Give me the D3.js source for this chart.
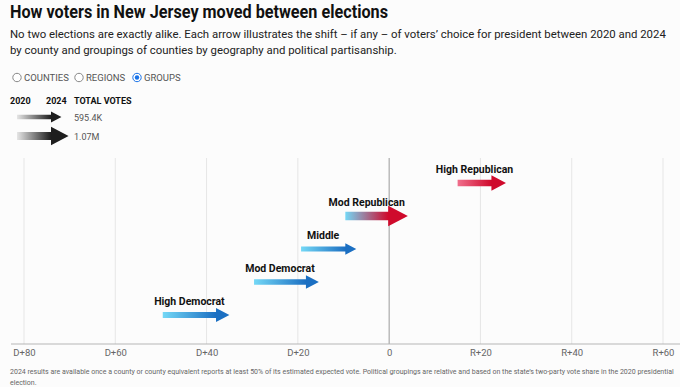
<!DOCTYPE html>
<html>
<head>
<meta charset="utf-8">
<script src="https://cdn.jsdelivr.net/npm/d3@7"></script>
<style>
  body { margin: 0; background: #fcfcfc; }
  svg { display: block; font-family: Roboto, "Noto Sans", sans-serif; }
</style>
</head>
<body>
<div id="chart"></div>
<script>
// chart size
var svgWidth = 680;
var svgHeight = 387;

// groups, 2020 margin and 2024 margin (negative = D, positive = R), total votes
var groups = ["High Republican", "Mod Republican", "Middle", "Mod Democrat", "High Democrat"];
var margin2020 = [15, -9.6, -19.3, -29.6, -49.6];
var margin2024 = [25.6, 4.1, -7.2, -15.4, -35];
var totalVotes = [870000, 1210000, 630000, 760000, 790000];

// legend
var legendVotes = [595400, 1070000];
var legendLabels = ["595.4K", "1.07M"];

var tickValues = [-80, -60, -40, -20, 0, 20, 40, 60];
var radioLabels = ["COUNTIES", "REGIONS", "GROUPS"];

var svg = d3.select("#chart")
  .append("svg")
  .attr("width", svgWidth)
  .attr("height", svgHeight);

var defs = svg.append("defs");

// set the font size so a line takes (at most) the given width
function fitText(str, x, y, width, size, fill) {
  var t = svg.append("text")
    .attr("x", x).attr("y", y)
    .attr("font-size", size).attr("fill", fill)
    .text(str);
  var w = t.node().getComputedTextLength();
  if (w > width) t.attr("font-size", size * width / w);
  return t;
}

// title + subtitle
svg.append("text")
  .attr("x", 10).attr("y", 18)
  .attr("font-size", 18).attr("font-weight", 700).attr("fill", "#111")
  .attr("textLength", 378).attr("lengthAdjust", "spacingAndGlyphs")
  .text("How voters in New Jersey moved between elections");

var sub1 = fitText("No two elections are exactly alike. Each arrow illustrates the shift \u2013 if any \u2013 of voters\u2019 choice for president between 2020 and 2024",
  10, 38, 657, 12.5, "#222");
svg.append("text")
  .attr("x", 10).attr("y", 54)
  .attr("font-size", sub1.attr("font-size")).attr("fill", "#222")
  .text("by county and groupings of counties by geography and political partisanship.");

// radio buttons
var radioX = [17, 79, 137];
var radio = svg.selectAll(".radio")
  .data(radioLabels)
  .enter()
  .append("g")
  .attr("transform", (d, i) => `translate(${radioX[i]}, 77.5)`);
radio.append("circle")
  .attr("r", 4.2)
  .attr("fill", "#fff")
  .attr("stroke", (d, i) => i === 2 ? "#1a73e8" : "#888")
  .attr("stroke-width", 1);
radio.filter((d, i) => i === 2).append("circle")
  .attr("r", 2.2).attr("fill", "#1a73e8");
radio.append("text")
  .attr("x", 7).attr("y", 3.5)
  .attr("font-size", 9.5).attr("fill", "#555")
  .text(d => d);

// legend header
var legendHead = [["2020", 10], ["2024", 46], ["TOTAL VOTES", 74]];
svg.selectAll(".lh")
  .data(legendHead)
  .enter()
  .append("text")
  .attr("x", d => d[1]).attr("y", 104)
  .attr("font-size", 9).attr("font-weight", 700).attr("fill", "#111")
  .text(d => d[0]);

// arrow size from votes
var headScale = d3.scaleLinear()
  .domain([595400, 1070000])
  .range([11, 18.5]);

function arrowPath(x0, x1, cy, h) {
  var len = h * 0.95;
  var s = h * 0.42;
  var xb = x1 - len;
  return `M${x0},${cy - s / 2}L${xb},${cy - s / 2}L${xb},${cy - h / 2}L${x1},${cy}` +
    `L${xb},${cy + h / 2}L${xb},${cy + s / 2}L${x0},${cy + s / 2}Z`;
}

function makeGradient(id, x0, x1, c0, c1) {
  var g = defs.append("linearGradient")
    .attr("id", id)
    .attr("gradientUnits", "userSpaceOnUse")
    .attr("x1", x0).attr("x2", x1)
    .attr("y1", 0).attr("y2", 0);
  g.append("stop").attr("offset", "0%").attr("stop-color", c0);
  g.append("stop").attr("offset", "100%").attr("stop-color", c1);
}

// legend arrows
var legendY = [117, 136];
legendVotes.forEach((v, i) => {
  var h = headScale(v);
  var x0 = 17, xb = 51, x1 = xb + h * 0.95;
  makeGradient("lg" + i, x0, xb, "#e6e6e6", "#1e1e1e");
  svg.append("path")
    .attr("d", arrowPath(x0, x1, legendY[i], h))
    .attr("fill", `url(#lg${i})`);
  svg.append("text")
    .attr("x", 74).attr("y", legendY[i] + 3.5)
    .attr("font-size", 9).attr("fill", "#555")
    .text(legendLabels[i]);
});

// scales
var x = d3.scaleLinear()
  .domain([-80, 60])
  .range([24, 663]);

var y = d3.scalePoint()
  .domain(groups)
  .range([183, 315]);

var chartTop = 158;
var axisY = 344;

// gridlines
svg.selectAll(".grid")
  .data(tickValues)
  .enter()
  .append("line")
  .attr("x1", d => x(d)).attr("x2", d => x(d))
  .attr("y1", chartTop).attr("y2", axisY)
  .attr("stroke", d => d === 0 ? "#9a9a9a" : "#e6e6e6")
  .attr("stroke-width", 1);

// axis
var xAxis = d3.axisBottom(x)
  .tickValues(tickValues)
  .tickSize(0)
  .tickPadding(5)
  .tickFormat(d => d < 0 ? "D+" + (-d) : d > 0 ? "R+" + d : "0");

var axisG = svg.append("g")
  .attr("transform", `translate(0, ${axisY})`)
  .call(xAxis);
axisG.select(".domain").remove();
axisG.selectAll("text")
  .attr("font-family", "Roboto, sans-serif")
  .attr("font-size", 9.5)
  .attr("fill", "#666");
svg.append("line")
  .attr("x1", 11).attr("x2", svgWidth)
  .attr("y1", axisY).attr("y2", axisY)
  .attr("stroke", "#b5b5b5").attr("stroke-width", 1.2);

// arrows
var dStart = "#74d8f6", dEnd = "#1b6fc2";
var rStart = "#f06f8c", rEnd = "#cf0a2c";

groups.forEach((g, i) => {
  var h = headScale(totalVotes[i]);
  var x0 = x(margin2020[i]);
  var x1 = x(margin2024[i]);
  var xb = x1 - h * 0.95;
  var cy = y(g);
  var c0 = margin2020[i] < 0 ? dStart : rStart;
  var c1 = margin2024[i] < 0 ? dEnd : rEnd;
  makeGradient("ag" + i, x0, xb, c0, c1);
  svg.append("path")
    .attr("d", arrowPath(x0, x1, cy, h))
    .attr("fill", `url(#ag${i})`);
  svg.append("text")
    .attr("x", (x0 + xb) / 2)
    .attr("y", cy - 10)
    .attr("text-anchor", "middle")
    .attr("font-size", 10.5).attr("font-weight", 700).attr("fill", "#111")
    .text(g);
});

// footnote
var note1 = fitText("2024 results are available once a county or county equivalent reports at least 50% of its estimated expected vote. Political groupings are relative and based on the state\u2019s two-party vote share in the 2020 presidential",
  10, 374, 665, 8, "#666");
svg.append("text")
  .attr("x", 10).attr("y", 385)
  .attr("font-size", note1.attr("font-size")).attr("fill", "#666")
  .text("election.");
</script>
</body>
</html>
